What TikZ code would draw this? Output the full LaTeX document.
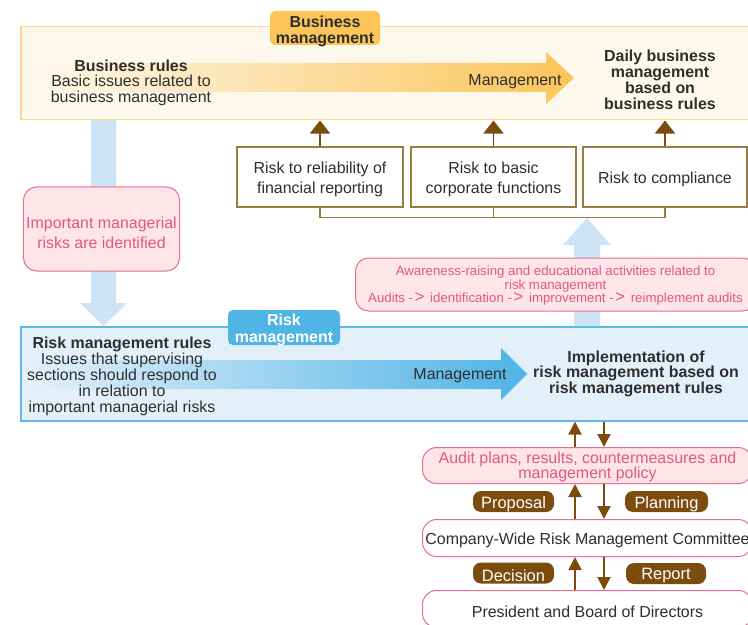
\documentclass[tikz,border=0pt]{standalone}
\usepackage{fontspec}
\setmainfont{Liberation Sans}
\usetikzlibrary{arrows.meta}

\definecolor{bizfill}{HTML}{FDF8EC}
\definecolor{bizline}{HTML}{FBD88C}
\definecolor{bizorange}{HTML}{FBC55A}
\definecolor{rmfill}{HTML}{E3F0FA}
\definecolor{rmline}{HTML}{5CB9E9}
\definecolor{rmblue}{HTML}{4FB4E6}
\definecolor{flowblue}{HTML}{CCE4F6}
\definecolor{pinkfill}{HTML}{FDE5E8}
\definecolor{pinkline}{HTML}{E56F97}
\definecolor{pinktext}{HTML}{E2568A}
\definecolor{brownc}{HTML}{7B4C0E}
\definecolor{riskline}{HTML}{9B7B40}
\definecolor{txt}{HTML}{2E2E2E}

% arrow sign used in the audit cycle line
\newcommand{\cyclearr}{-\kern1.5bp\smash{\fontsize{17}{13}\selectfont>}\kern2bp}

\tikzset{
  band/.style={rectangle, anchor=north west, inner sep=0pt, line width=1.5bp},
  tagbox/.style={rectangle, rounded corners=5bp, inner sep=0pt},
  riskbox/.style={rectangle, draw=riskline, fill=white, line width=1.2bp,
    minimum height=60bp, inner sep=0pt},
  pinkbox/.style={rectangle, draw=pinkline, fill=pinkfill, line width=1bp,
    rounded corners=13bp, inner sep=0pt},
  orgbox/.style={rectangle, draw=pinkline, line width=1bp, rounded corners=14bp,
    inner sep=0pt, minimum width=330bp, anchor=north west},
  pill/.style={rectangle, fill=brownc, rounded corners=8bp, inner sep=0pt,
    minimum height=21bp},
  brarrow/.style={draw=brownc, line width=2bp,
    -{Triangle[width=13bp,length=13bp]}},
  bigarrow/.style={draw=brownc, line width=1.6bp,
    -{Triangle[width=20bp,length=13bp]}},
  bracket/.style={draw=riskline, line width=1.2bp},
  plain/.style={align=center, text=txt, inner sep=0pt, yshift=-2.5bp},
  pinktxt/.style={plain, text=pinktext},
  whitetxt/.style={plain, text=white}
}

\begin{document}
\begin{tikzpicture}[x=1bp, y=-1bp, font=\fontsize{16}{16}\selectfont]
\useasboundingbox (0,0) rectangle (748,625);
\clip (0,0) rectangle (748,625);
\fill[white] (0,0) rectangle (748,625);

% light blue flow arrows (behind everything else)
\fill[flowblue] (91,119) -- (116,119) -- (116,303) -- (127,303) -- (103.5,326)
  -- (80,303) -- (91,303) -- cycle;
\fill[flowblue] (574,326) -- (574,245) -- (563,245) -- (587,218) -- (611,245)
  -- (600,245) -- (600,326) -- cycle;

% business management band
\node[band, draw=bizline, fill=bizfill, minimum width=750bp, minimum height=93bp]
  (biz) at (20,26) {};
\shade[left color=bizfill, right color=bizorange]
  (30,63) -- (546,63) -- (546,52) -- (574,78) -- (546,104) -- (546,92) -- (30,92) -- cycle;
\node[tagbox, fill=bizorange, minimum width=110bp, minimum height=34bp]
  (biztag) at (325,28) {};
\node[plain, yshift=-1bp, font=\bfseries\fontsize{16}{16.5}\selectfont] (biztagt) at (biztag)
  {Business\\management};
\node[plain, font=\fontsize{16}{15.5}\selectfont] (bizrules) at (131,80)
  {\textbf{Business rules}\\Basic issues related to\\business management};
\node[plain] (bizmgmt) at (515,79.5) {Management};
\node[plain, font=\bfseries\fontsize{16}{16}\selectfont] (daily) at (660,77.5)
  {Daily business\\management\\based on\\business rules};

% risk categories
\node[riskbox, minimum width=166bp] (r1) at (320,177) {};
\node[riskbox, minimum width=165bp] (r2) at (493.5,177) {};
\node[riskbox, minimum width=164bp] (r3) at (665,177) {};
\begin{scope}[font=\fontsize{16}{20}\selectfont]
  \node[plain] (r1t) at (r1) {Risk to reliability of\\financial reporting};
  \node[plain] (r2t) at (r2) {Risk to basic\\corporate functions};
  \node[plain] (r3t) at (r3) {Risk to compliance};
\end{scope}
\foreach \r in {r1,r2,r3}
  \draw[bigarrow] (\r.north) -- (\r.north |- biz.south);
\draw[bracket] (r1.south) -- ++(0,10) -| (r3.south);
\draw[bracket] (r2.south) -- ++(0,10);

% identification and awareness notes
\node[pinkbox, minimum width=156bp, minimum height=84bp] (ident) at (101.5,229) {};
\node[pinktxt, yshift=-1bp, font=\fontsize{16}{20}\selectfont] (identt) at (ident)
  {Important managerial\\risks are identified};
\node[pinkbox, anchor=west, minimum width=400bp, minimum height=53bp]
  (aware) at (355,284.5) {};
\node[pinktxt, yshift=1bp, font=\fontsize{13.3}{13.5}\selectfont] (awaret) at (555.5,284.5)
  {Awareness-raising and educational activities related to\\
   risk management\\
   Audits \cyclearr{} identification \cyclearr{} improvement \cyclearr{} reimplement audits};

% risk management band
\node[band, draw=rmline, fill=rmfill, minimum width=750bp, minimum height=94bp]
  (rm) at (20,326) {};
\shade[left color=rmfill, right color=rmblue]
  (30,360) -- (501,360) -- (501,348) -- (527,374) -- (501,400) -- (501,389) -- (30,389) -- cycle;
\node[tagbox, fill=rmblue, minimum width=112bp, minimum height=35bp]
  (rmtag) at (284,327.5) {};
\node[whitetxt, font=\bfseries\fontsize{16}{17}\selectfont] (rmtagt) at (rmtag)
  {Risk\\management};
\node[plain] (rmrules) at (122,374)
  {\textbf{Risk management rules}\\Issues that supervising\\sections should respond to\\in relation to\\important managerial risks};
\node[plain] (rmmgmt) at (460,373.5) {Management};
\node[plain, font=\bfseries\fontsize{16}{15.5}\selectfont] (impl) at (636,371)
  {Implementation of\\risk management based on\\risk management rules};

% organisation and reporting line
\node[orgbox, fill=pinkfill, minimum height=36bp] (aud) at (422,447) {};
\node[pinktxt, yshift=1bp, font=\fontsize{16}{15}\selectfont] (audt) at (aud)
  {Audit plans, results, countermeasures and\\management policy};
\node[orgbox, fill=white, minimum height=37bp] (com) at (422,519) {};
\node[plain] (comt) at (com) {Company-Wide Risk Management Committee};
\node[orgbox, fill=white, minimum height=37bp] (pres) at (422,590) {};
\node[plain] (prest) at (pres) {President and Board of Directors};

\coordinate (upx) at (575,0);
\coordinate (dnx) at (604,0);
\draw[brarrow] (aud.north -| upx) -- (rm.south -| upx);
\draw[brarrow] (rm.south -| dnx) -- (aud.north -| dnx);
\draw[brarrow] (com.north -| upx) -- (aud.south -| upx);
\draw[brarrow] (aud.south -| dnx) -- (com.north -| dnx);
\draw[brarrow] (pres.north -| upx) -- (com.south -| upx);
\draw[brarrow] (com.south -| dnx) -- (pres.north -| dnx);

\node[pill, minimum width=81bp] (prop) at (513.5,501.5) {};
\node[pill, minimum width=83bp] (plan) at (666.5,501.5) {};
\node[pill, minimum width=81bp] (dec) at (513.5,573) {};
\node[pill, minimum width=80bp] (rep) at (666,573.5) {};
\begin{scope}[font=\fontsize{16.5}{17}\selectfont]
  \node[whitetxt] (propt) at (prop) {Proposal};
  \node[whitetxt] (plant) at (plan) {Planning};
  \node[whitetxt] (dect) at (dec) {Decision};
  \node[whitetxt] (rept) at (rep) {Report};
\end{scope}
\end{tikzpicture}
\end{document}
